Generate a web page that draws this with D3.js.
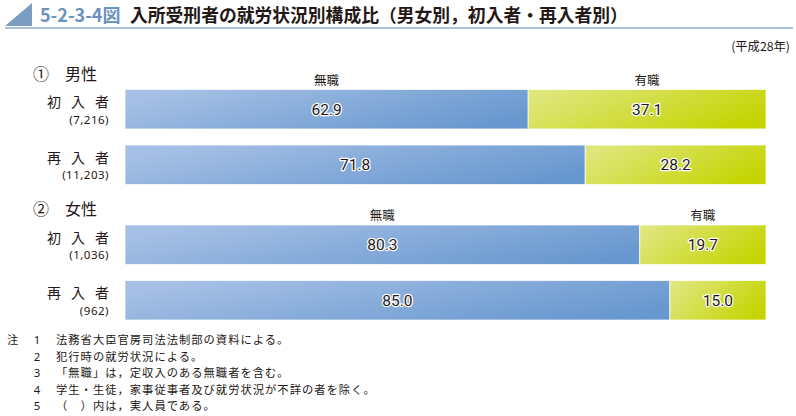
<!DOCTYPE html>
<html><head><meta charset="utf-8">
<script src="https://cdn.jsdelivr.net/npm/d3@7"></script>
<style>
body{margin:0;background:#fff;}
svg{display:block;font-family:"Noto Sans CJK JP","Noto Sans",sans-serif;}
</style></head>
<body><svg id="c" width="796" height="416"></svg>
<script>
const figNo = "5-2-3-4図";
const title = "入所受刑者の就労状況別構成比（男女別，初入者・再入者別）";
const yearNote = "(平成28年)";
const sections = ["①　男性", "②　女性"];
const rowLabels = ["初 入 者", "再 入 者", "初 入 者", "再 入 者"];
const rowCounts = ["(7,216)", "(11,203)", "(1,036)", "(962)"];
const rowSection = [0, 0, 1, 1];
const seriesNames = ["無職", "有職"];
const unemployed = [62.9, 71.8, 80.3, 85.0];
const employed = [37.1, 28.2, 19.7, 15.0];
const noteNums = ["1", "2", "3", "4", "5"];
const noteTexts = [
  "法務省大臣官房司法法制部の資料による。",
  "犯行時の就労状況による。",
  "「無職」は，定収入のある無職者を含む。",
  "学生・生徒，家事従事者及び就労状況が不詳の者を除く。",
  "（　）内は，実人員である。"
];

const svg = d3.select("#c");
const defs = svg.append("defs");
const grads = [["gBlue", "#a6c0e5", "#6797cf"], ["gGreen", "#dfe67a", "#c4d400"]];
grads.forEach(([id, a, b]) => {
  const g = defs.append("linearGradient").attr("id", id)
    .attr("x1", "0").attr("y1", "0.3").attr("x2", "1").attr("y2", "0.7");
  g.append("stop").attr("offset", "0").attr("stop-color", a);
  g.append("stop").attr("offset", "1").attr("stop-color", b);
});

// Title
svg.append("path").attr("d", "M5,26 L32,3 L32,26 Z").attr("fill", "#7b9dc2");
svg.append("line").attr("x1", 5).attr("x2", 793).attr("y1", 28).attr("y2", 28)
  .attr("stroke", "#8eaccb").attr("stroke-width", 1.5);
svg.append("text").attr("x", 40).attr("y", 22).attr("font-size", 18).attr("font-weight", "bold")
  .attr("fill", "#6d92bd").text(figNo);
svg.append("text").attr("x", 130).attr("y", 22).attr("font-size", 17.8).attr("font-weight", "bold")
  .attr("fill", "#231815").text(title);
svg.append("text").attr("x", 790).attr("y", 51).attr("font-size", 12.3).attr("text-anchor", "end")
  .attr("fill", "#231815").text(yearNote);

const x = d3.scaleLinear().domain([0, 100]).range([125, 766]);
const sectionRanges = [[89.5, 184.5], [225, 320]];
const ys = sectionRanges.map(r => d3.scaleBand().domain([0, 1]).range(r).paddingInner(0.29).paddingOuter(0));
const rowY = i => ys[rowSection[i]](i % 2);
const bh = ys[0].bandwidth();

// section headers
const secY = [80, 215];
sections.forEach((s, k) => {
  svg.append("text").attr("x", 33).attr("y", secY[k]).attr("font-size", 16)
    .attr("fill", "#231815").text(s);
});

// series labels above first bar in each section
[0, 2].forEach((i, k) => {
  const segs = [[0, unemployed[i]], [unemployed[i], 100]];
  segs.forEach((sg, j) => {
    svg.append("text").attr("x", (x(sg[0]) + x(sg[1])) / 2).attr("y", rowY(i) - 5)
      .attr("text-anchor", "middle").attr("font-size", 12.5).attr("fill", "#231815").text(seriesNames[j]);
  });
});

// rows
rowLabels.forEach((lab, i) => {
  const y0 = rowY(i);
  svg.append("text").attr("x", 47).attr("y", y0 + 17.5)
    .attr("font-size", 14).attr("fill", "#231815")
    .attr("textLength", 62).attr("lengthAdjust", "spacing").text(lab);
  svg.append("text").attr("x", 109).attr("y", y0 + 34).attr("text-anchor", "end")
    .attr("font-family", "'Noto Sans', sans-serif")
    .attr("font-size", 11.5).attr("letter-spacing", 0.5).attr("fill", "#231815").text(rowCounts[i]);
  const segs = [[0, unemployed[i], "gBlue"], [unemployed[i], unemployed[i] + employed[i], "gGreen"]];
  const vals = [unemployed[i], employed[i]];
  segs.forEach((sg, j) => {
    svg.append("rect").attr("x", x(sg[0])).attr("y", y0).attr("width", x(sg[1]) - x(sg[0]))
      .attr("height", bh).attr("fill", `url(#${sg[2]})`)
      .attr("stroke", "#ffffff").attr("stroke-opacity", 0.7).attr("stroke-width", 1);
    svg.append("text").attr("x", (x(sg[0]) + x(sg[1])) / 2).attr("y", y0 + bh / 2 + 5.5)
      .attr("text-anchor", "middle").attr("font-size", 15.5)
      .attr("font-family", "Roboto, 'Noto Sans', sans-serif")
      .attr("fill", "#231815").attr("stroke", "#ffffff").attr("stroke-width", 2.5)
      .attr("paint-order", "stroke").attr("stroke-linejoin", "round")
      .text(vals[j].toFixed(1));
  });
});

// notes
const noteY0 = 344, noteStep = 16.5, noteFs = 11.3;
svg.append("text").attr("x", 7).attr("y", noteY0).attr("font-size", noteFs).attr("fill", "#231815").text("注");
noteNums.forEach((n, k) => {
  svg.append("text").attr("x", 37).attr("y", noteY0 + k * noteStep).attr("font-size", noteFs)
    .attr("font-family", "'Noto Sans', sans-serif")
    .attr("text-anchor", "middle").attr("fill", "#231815").text(n);
  svg.append("text").attr("x", 56).attr("y", noteY0 + k * noteStep).attr("font-size", noteFs)
    .attr("letter-spacing", 1).attr("fill", "#231815").text(noteTexts[k]);
});
</script></body></html>
